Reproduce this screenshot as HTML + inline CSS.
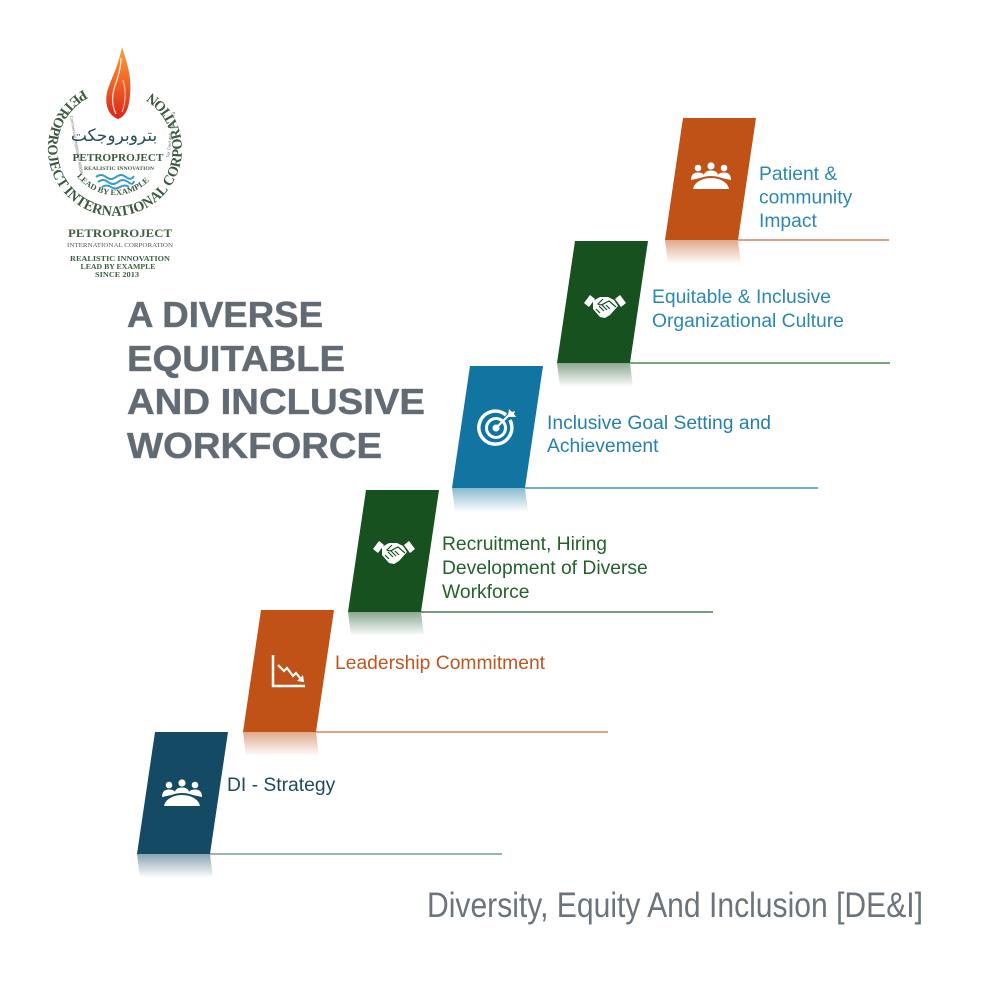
<!DOCTYPE html>
<html>
<head>
<meta charset="utf-8">
<style>
html,body{margin:0;padding:0;background:#fff;}
svg{display:block;}
</style>
</head>
<body>
<svg width="1000" height="1000" viewBox="0 0 1000 1000" xmlns="http://www.w3.org/2000/svg">
<defs>
  <linearGradient id="flame" x1="0" y1="0" x2="0" y2="1">
    <stop offset="0" stop-color="#f6a33a"/>
    <stop offset="0.45" stop-color="#f06a28"/>
    <stop offset="1" stop-color="#d8261b"/>
  </linearGradient>
  <linearGradient id="rTeal" x1="0" y1="0" x2="0" y2="1"><stop offset="0" stop-color="#144a63" stop-opacity="0.5"/><stop offset="1" stop-color="#144a63" stop-opacity="0"/></linearGradient>
  <linearGradient id="rOr" x1="0" y1="0" x2="0" y2="1"><stop offset="0" stop-color="#c05217" stop-opacity="0.5"/><stop offset="1" stop-color="#c05217" stop-opacity="0"/></linearGradient>
  <linearGradient id="rGr" x1="0" y1="0" x2="0" y2="1"><stop offset="0" stop-color="#17511f" stop-opacity="0.5"/><stop offset="1" stop-color="#17511f" stop-opacity="0"/></linearGradient>
  <linearGradient id="rBl" x1="0" y1="0" x2="0" y2="1"><stop offset="0" stop-color="#1274a0" stop-opacity="0.5"/><stop offset="1" stop-color="#1274a0" stop-opacity="0"/></linearGradient>
  <path id="ring" d="M83.5,89.8 A67,67 0 1 0 151.5,92.8"/>
  <path id="leadArc" d="M74,172 A48,48 0 0 0 156,172"/>
</defs>

<!-- ================= LOGO ================= -->
<g>
  <path d="M118,119 C107,115 103,101 109,86 C113,75 118,66 122,47 C127,62 132,78 130,95 C129,108 126,116 118,119 Z" fill="url(#flame)"/>
  <path d="M116,114 C111,104 112,92 117,80 C119,73 121,66 121,58" fill="none" stroke="#fff" stroke-width="1.2" opacity="0.85"/>
  <path d="M122,112 C126,102 126,90 123,80" fill="none" stroke="#fff" stroke-width="1" opacity="0.7"/>

  <text font-family="Liberation Serif, serif" font-weight="bold" font-size="14.5" fill="#3d5a40">
    <textPath href="#ring" textLength="349" lengthAdjust="spacingAndGlyphs">PETROPROJECT INTERNATIONAL CORPORATION</textPath>
  </text>

  <text transform="translate(70,116) rotate(80)" font-family="Liberation Sans, sans-serif" font-size="4.2" fill="#6a7070">Commercial Registration 68958</text>
  <text transform="translate(169,158) rotate(-82)" font-family="Liberation Sans, sans-serif" font-size="4.2" fill="#6a7070">Tax Card 455 - 305 - 774</text>

  <text x="114" y="141" text-anchor="middle" font-family="DejaVu Sans, sans-serif" font-size="17" fill="#2c4e5c">بتروبروجكت</text>

  <text x="118" y="161" text-anchor="middle" font-family="Liberation Serif, serif" font-weight="bold" font-size="10.5" fill="#3d5a40" textLength="91" lengthAdjust="spacingAndGlyphs">PETROPROJECT</text>
  <text x="119" y="170" text-anchor="middle" font-family="Liberation Serif, serif" font-weight="bold" font-size="5" fill="#4a5a4a" textLength="70" lengthAdjust="spacingAndGlyphs">REALISTIC INNOVATION</text>

  <g fill="none" stroke="#3a9cc6" stroke-width="2">
    <path d="M96,177 q5,-4 10,0 t10,0 t10,0 t8,-1"/>
    <path d="M98,182 q5,-4 10,0 t10,0 t10,0 t6,-1"/>
    <path d="M102,187 q5,-3 9,0 t9,0 t9,0"/>
  </g>

  <text font-family="Liberation Serif, serif" font-weight="bold" font-size="8" fill="#3d5a40">
    <textPath href="#leadArc" startOffset="5" textLength="82" lengthAdjust="spacingAndGlyphs">LEAD BY EXAMPLE</textPath>
  </text>

  <text x="120" y="237" text-anchor="middle" font-family="Liberation Serif, serif" font-weight="bold" font-size="12" fill="#3d5e3f" textLength="104" lengthAdjust="spacingAndGlyphs">PETROPROJECT</text>
  <text x="120" y="247" text-anchor="middle" font-family="Liberation Serif, serif" font-size="6" fill="#4a5a4a" textLength="106" lengthAdjust="spacingAndGlyphs">INTERNATIONAL CORPORATION</text>
  <text x="120" y="261" text-anchor="middle" font-family="Liberation Serif, serif" font-weight="bold" font-size="7" fill="#3d5e3f" textLength="100" lengthAdjust="spacingAndGlyphs">REALISTIC INNOVATION</text>
  <text x="118" y="269" text-anchor="middle" font-family="Liberation Serif, serif" font-weight="bold" font-size="7" fill="#3d5e3f" textLength="75" lengthAdjust="spacingAndGlyphs">LEAD BY EXAMPLE</text>
  <text x="117" y="277" text-anchor="middle" font-family="Liberation Serif, serif" font-weight="bold" font-size="7" fill="#3d5e3f" textLength="44" lengthAdjust="spacingAndGlyphs">SINCE 2013</text>
</g>

<!-- ================= TITLE ================= -->
<g font-family="Liberation Sans, Arial, sans-serif" font-weight="bold" font-size="36" fill="#626b73" style="paint-order:stroke" stroke="#8a9299" stroke-width="0.6">
  <text x="127" y="327" textLength="196" lengthAdjust="spacingAndGlyphs">A DIVERSE</text>
  <text x="127" y="371" textLength="218" lengthAdjust="spacingAndGlyphs">EQUITABLE</text>
  <text x="127" y="414" textLength="298" lengthAdjust="spacingAndGlyphs">AND INCLUSIVE</text>
  <text x="127" y="458" textLength="255" lengthAdjust="spacingAndGlyphs">WORKFORCE</text>
</g>

<!-- ================= STEPS ================= -->
<g stroke-width="1.5">
  <line x1="210" y1="854" x2="502" y2="854" stroke="#7d98a8"/>
  <line x1="316" y1="732" x2="608" y2="732" stroke="#d9845a"/>
  <line x1="421" y1="612" x2="713" y2="612" stroke="#4a7d50"/>
  <line x1="525" y1="488" x2="818" y2="488" stroke="#3d93c0"/>
  <line x1="630" y1="363" x2="890" y2="363" stroke="#4a8a50"/>
  <line x1="738" y1="240" x2="889" y2="240" stroke="#d08060"/>
</g>

<polygon points="137,854 210,854 213,878 140,878" fill="url(#rTeal)"/>
<polygon points="243,732 316,732 319,756 246,756" fill="url(#rOr)"/>
<polygon points="348,612 421,612 424,636 351,636" fill="url(#rGr)"/>
<polygon points="452,488 525,488 528,512 455,512" fill="url(#rBl)"/>
<polygon points="557,363 630,363 633,387 560,387" fill="url(#rGr)"/>
<polygon points="665,240 738,240 741,264 668,264" fill="url(#rOr)"/>

<polygon points="155,732 228,732 210,854 137,854" fill="#144a63"/>
<polygon points="261,610 334,610 316,732 243,732" fill="#c05217"/>
<polygon points="366,490 439,490 421,612 348,612" fill="#17511f"/>
<polygon points="470,366 543,366 525,488 452,488" fill="#1274a0"/>
<polygon points="575,241 648,241 630,363 557,363" fill="#17511f"/>
<polygon points="683,118 756,118 738,240 665,240" fill="#c05217"/>

<!-- people DI -->
<g transform="translate(182,794)" fill="#fff">
  <circle cx="-13" cy="-9" r="3.3"/><circle cx="0" cy="-11" r="3.6"/><circle cx="13" cy="-9" r="3.3"/>
  <path d="M-20,3 Q-20,-4.5 -13,-4.5 Q-7,-4.5 -6,0 Z"/>
  <path d="M20,3 Q20,-4.5 13,-4.5 Q7,-4.5 6,0 Z"/>
  <path d="M-7.5,0 Q-7,-6.5 0,-6.5 Q7,-6.5 7.5,0 Z"/>
  <path d="M-19,13 A19,13 0 0 1 19,13 Z" stroke="#144a63" stroke-width="2"/>
</g>
<!-- people Patient -->
<g transform="translate(711,177)" fill="#fff">
  <circle cx="-13" cy="-9" r="3.3"/><circle cx="0" cy="-11" r="3.6"/><circle cx="13" cy="-9" r="3.3"/>
  <path d="M-20,3 Q-20,-4.5 -13,-4.5 Q-7,-4.5 -6,0 Z"/>
  <path d="M20,3 Q20,-4.5 13,-4.5 Q7,-4.5 6,0 Z"/>
  <path d="M-7.5,0 Q-7,-6.5 0,-6.5 Q7,-6.5 7.5,0 Z"/>
  <path d="M-19,13 A19,13 0 0 1 19,13 Z" stroke="#c05217" stroke-width="2"/>
</g>
<!-- chart -->
<g fill="none" stroke="#fff" stroke-width="2.5">
  <path d="M273,655 L273,686 L305,686"/>
  <path d="M278,665 L284,671 L287,668 L293,676 L296,673 L300,678" stroke-width="2.2"/>
</g>
<polygon points="297,681 304,682 303,675" fill="#fff"/>
<!-- handshake recruitment -->
<g transform="translate(394,552)">
  <g fill="#fff">
    <polygon points="-21,-3 -15,-11 -10,-7 -16,1"/>
    <polygon points="21,-3 15,-11 10,-7 16,1"/>
    <path d="M-12,-5 L-5,-9 L3,-9 L9,-6 L13,0 L5,9 L0,12 L-5,11 L-12,3 Z"/>
  </g>
  <g fill="none" stroke="#17511f" stroke-width="1.2">
    <path d="M-2,-7 L-7,-2 Q-4,0 0,-3 L4,-5 L11,1"/>
    <path d="M-9,3 L-5,7 M-6,0 L-1,5 M-3,-1 L2,4 M1,-1 L5,3"/>
  </g>
</g>
<!-- handshake equitable -->
<g transform="translate(605,306)">
  <g fill="#fff">
    <polygon points="-21,-3 -15,-11 -10,-7 -16,1"/>
    <polygon points="21,-3 15,-11 10,-7 16,1"/>
    <path d="M-12,-5 L-5,-9 L3,-9 L9,-6 L13,0 L5,9 L0,12 L-5,11 L-12,3 Z"/>
  </g>
  <g fill="none" stroke="#17511f" stroke-width="1.2">
    <path d="M-2,-7 L-7,-2 Q-4,0 0,-3 L4,-5 L11,1"/>
    <path d="M-9,3 L-5,7 M-6,0 L-1,5 M-3,-1 L2,4 M1,-1 L5,3"/>
  </g>
</g>
<!-- target -->
<g transform="translate(496,428)">
  <path d="M10,-13 A16.5,16.5 0 1 0 14,-8" fill="none" stroke="#fff" stroke-width="3.5"/>
  <circle cx="0" cy="0" r="9.5" fill="none" stroke="#fff" stroke-width="3"/>
  <circle cx="0" cy="0" r="3.5" fill="#fff"/>
  <line x1="0" y1="0" x2="14" y2="-14" stroke="#fff" stroke-width="2.2"/>
  <polygon points="12,-12 13,-19 16,-16 19,-17 18,-14 20,-11 13,-11" fill="#fff"/>
</g>

<g font-family="Liberation Sans, Arial, sans-serif" font-size="19.3">
  <text x="227" y="791" fill="#1d4a62">DI - Strategy</text>
  <text x="335" y="669" fill="#c0561f">Leadership Commitment</text>
  <text fill="#22622b">
    <tspan x="442" y="550">Recruitment, Hiring</tspan>
    <tspan x="442" y="574">Development of Diverse</tspan>
    <tspan x="442" y="598">Workforce</tspan>
  </text>
  <text fill="#2580ab">
    <tspan x="547" y="429">Inclusive Goal Setting and</tspan>
    <tspan x="547" y="452">Achievement</tspan>
  </text>
  <text fill="#2a88b3">
    <tspan x="652" y="303">Equitable &amp; Inclusive</tspan>
    <tspan x="652" y="327">Organizational Culture</tspan>
  </text>
  <text fill="#2a88b3">
    <tspan x="759" y="180">Patient &amp;</tspan>
    <tspan x="759" y="203.5">community</tspan>
    <tspan x="759" y="227">Impact</tspan>
  </text>
</g>

<text x="427" y="917" font-family="Liberation Sans Narrow, Liberation Sans, Arial, sans-serif" font-size="35" fill="#6b747c" textLength="496" lengthAdjust="spacingAndGlyphs">Diversity, Equity And Inclusion [DE&amp;I]</text>
</svg>
</body>
</html>
